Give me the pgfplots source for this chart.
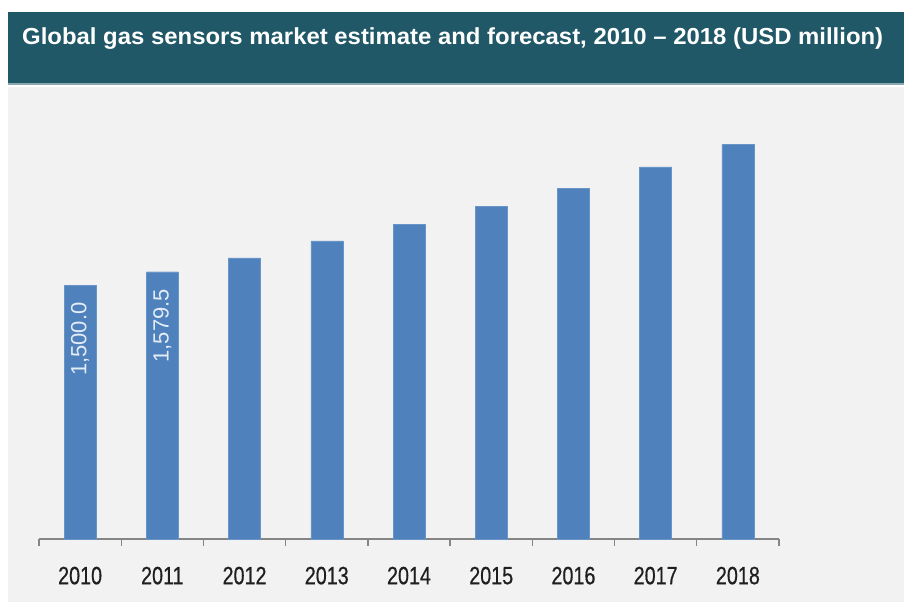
\documentclass[border=0pt]{standalone}
\usepackage{fontspec}
\setmainfont{Liberation Sans}
\newfontfamily\tickfont[FakeBold=0.6]{Liberation Sans}
\usepackage{graphicx}
\usepackage{pgfplots}
\pgfplotsset{compat=1.18}

\definecolor{titlebar}{HTML}{215867}
\definecolor{titleline}{HTML}{8AA8B2}
\definecolor{bgray}{HTML}{F2F2F2}
\definecolor{barblue}{HTML}{4F81BD}
\definecolor{axgray}{HTML}{858585}
\definecolor{lbl}{HTML}{E4ECF6}

\newcommand\yr[1]{\scalebox{0.79}[1]{#1}}

\begin{document}
\begin{tikzpicture}[x=1bp,y=1bp]
% page and backgrounds (1bp = 1px of the reference)
\fill[white] (0,0) rectangle (904,602);
\useasboundingbox (0,0) rectangle (904,602);
\fill[bgray] (8,0) rectangle (904,515);
\fill[titlebar] (8,519) rectangle (904,590);
\fill[titleline] (8,516.5) rectangle (904,519);
\node[anchor=base west, text=white, inner sep=0pt] at (22,557)
  {\resizebox{861bp}{16.8bp}{\bfseries Global gas sensors market estimate and forecast, 2010 -- 2018 (USD million)}};

\begin{axis}[
  at={(39bp,63bp)}, anchor=south west,
  scale only axis,
  width=740bp, height=450bp,
  xmin=-0.5, xmax=8.5,
  ymin=0, ymax=2660,
  hide y axis,
  axis x line*=bottom,
  x axis line style={-, draw=axgray, line width=1.4bp},
  xtick={0,...,8},
  xticklabels={\yr{2010},\yr{2011},\yr{2012},\yr{2013},\yr{2014},\yr{2015},\yr{2016},\yr{2017},\yr{2018}},
  major x tick style={draw=none},
  minor xtick={-0.5,0.5,...,8.5},
  minor x tick style={draw=axgray, line width=1.4bp},
  minor tick length=7bp,
  tick align=outside,
  xticklabel style={font=\tickfont\fontsize{25bp}{25bp}\selectfont, text=black!88, yshift=-20bp},
  /pgf/number format/assume math mode=true,
  ybar, bar width=32bp,
  axis background/.style={fill=none},
  clip=false,
]
\addplot[fill=barblue, draw=barblue!85!white, bar shift=0pt] coordinates {
  (0,1500) (1,1579.5) (2,1662) (3,1762) (4,1858) (5,1965) (6,2073) (7,2200) (8,2333)
};
\addplot[fill=barblue, draw=barblue!85!white, bar shift=0pt,
  nodes near coords={\pgfmathprintnumber[fixed,fixed zerofill,precision=1,1000 sep={,},assume math mode=true]{\pgfplotspointmeta}},
  every node near coord/.append style={rotate=90, anchor=east, xshift=-17bp,
    text=lbl, font=\fontsize{22bp}{22bp}\selectfont, inner sep=0pt},
] coordinates {
  (0,1500) (1,1579.5)
};
\end{axis}
\end{tikzpicture}
\end{document}
